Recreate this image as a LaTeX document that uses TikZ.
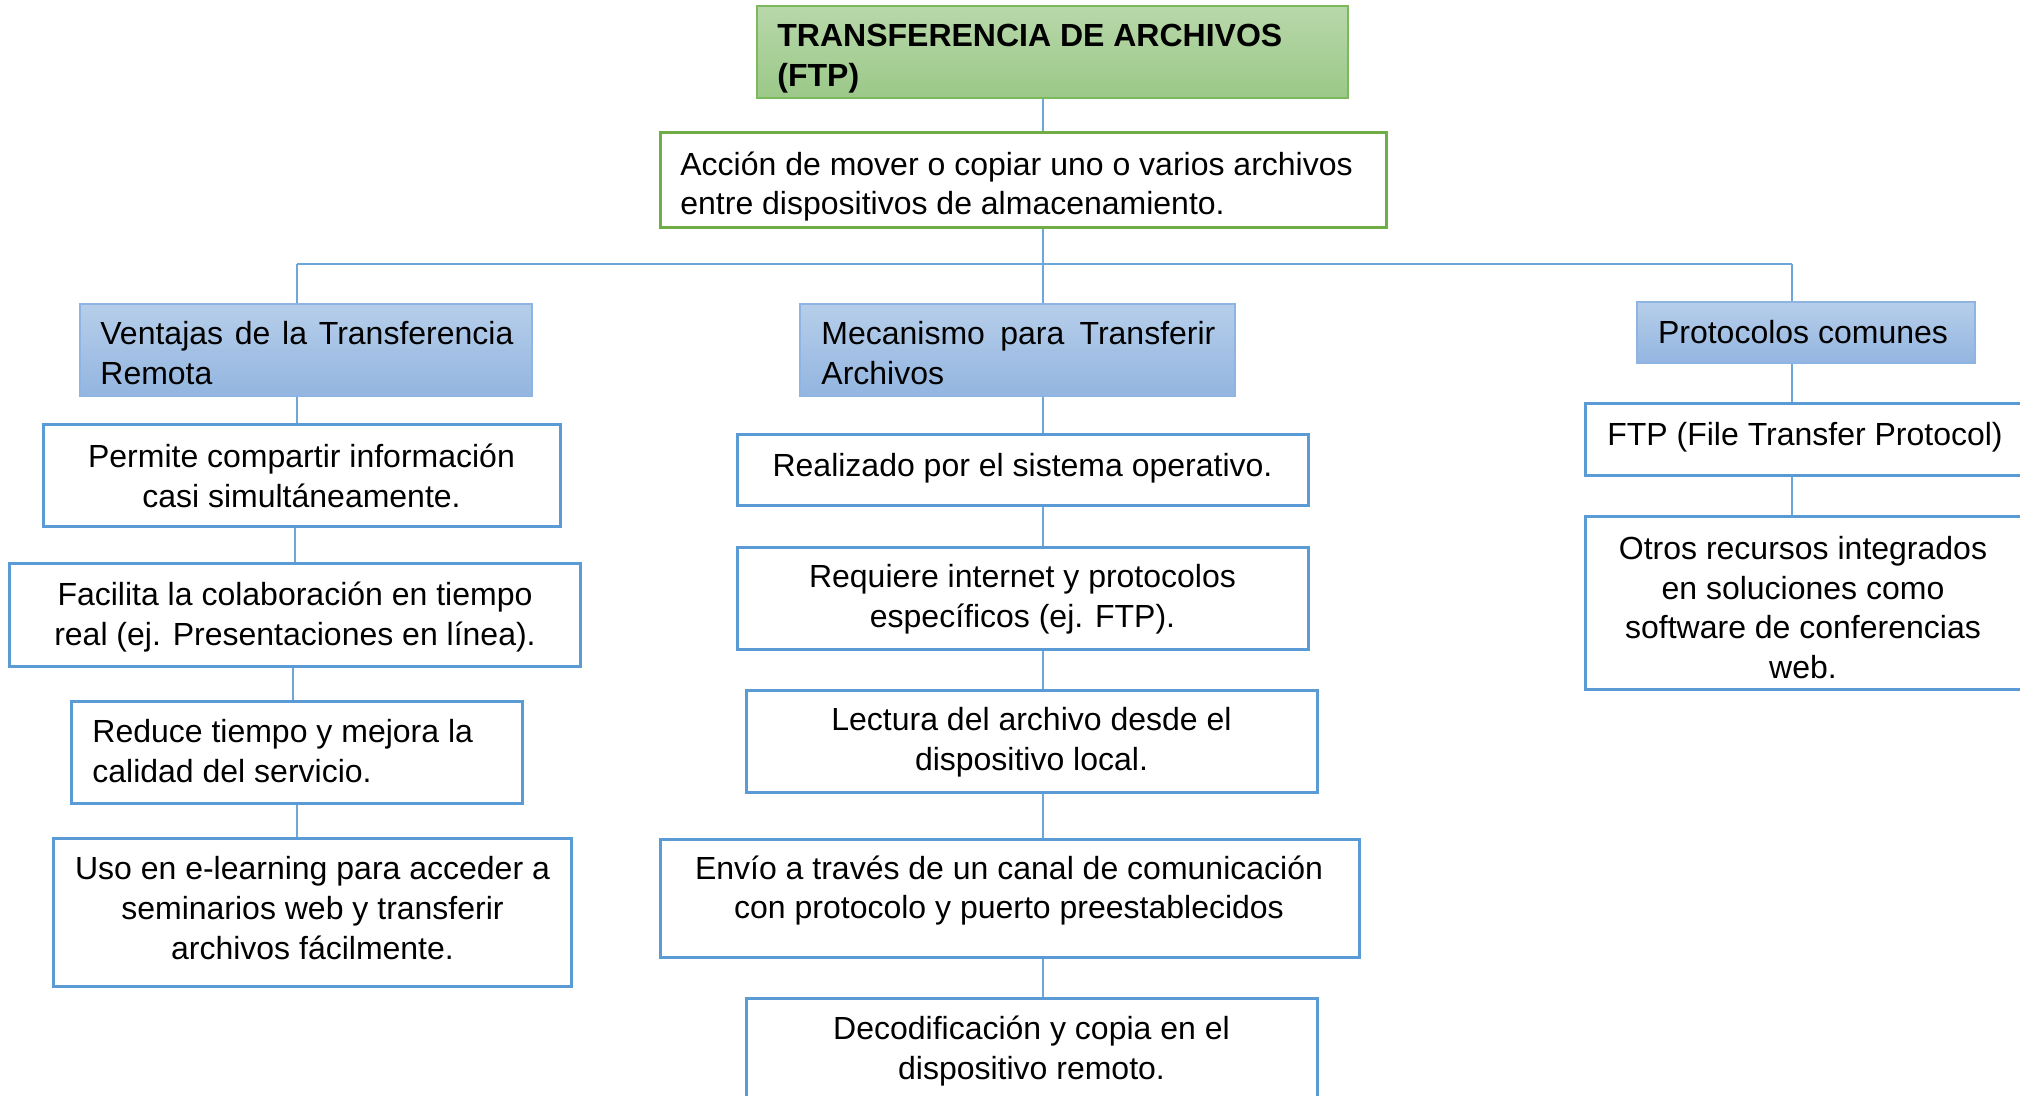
\documentclass[tikz,border=0pt]{standalone}
\usepackage{fontspec}
\setmainfont{Liberation Sans}
\definecolor{boxblue}{HTML}{5B9BD5}
\definecolor{connblue}{HTML}{6FA6DA}
\definecolor{hdrline}{HTML}{8DB4E2}
\definecolor{hdrtop}{HTML}{B6CEEA}
\definecolor{hdrbot}{HTML}{93B5E0}
\definecolor{ttltop}{HTML}{B8D8AA}
\definecolor{ttlbot}{HTML}{9BC888}
\definecolor{ttlline}{HTML}{7CB95C}
\definecolor{defline}{HTML}{70AD47}
\begin{document}
\begin{tikzpicture}[x=0.5pt,y=-0.5pt,
  box/.style={draw=boxblue, line width=1.5pt, fill=white, inner sep=0pt},
  hdr/.style={draw=hdrline, line width=1pt, top color=hdrtop, bottom color=hdrbot, inner sep=0pt},
  ttl/.style={draw=ttlline, line width=1pt, top color=ttltop, bottom color=ttlbot, inner sep=0pt},
  defbox/.style={draw=defline, line width=1.5pt, fill=white, inner sep=0pt},
  txt/.style={inner sep=0pt, font=\fontsize{16pt}{19.9pt}\selectfont},
  conn/.style={draw=connblue, line width=0.8pt}]
\useasboundingbox (0,0) rectangle (2020,1096);
\fill[white] (0,0) rectangle (2020,1096);

% junction coordinates
\coordinate (jC) at (1043,264);
\coordinate (jL) at (297,264);
\coordinate (jR) at (1792,264);

% boxes
\node[ttl, minimum width=295.5pt, minimum height=46pt] (title) at (1052.5,52) {};
\node[defbox, minimum width=363pt, minimum height=47.5pt] (def) at (1023,180.5) {};
\node[hdr, minimum width=226pt, minimum height=46pt] (ven) at (306,350) {};
\node[hdr, minimum width=217.5pt, minimum height=46pt] (mec) at (1017.5,350) {};
\node[hdr, minimum width=169pt, minimum height=30.5pt] (prot) at (1806,333) {};
\node[box, minimum width=258.5pt, minimum height=51pt] (perm) at (301.5,476) {};
\node[box, minimum width=285.5pt, minimum height=51pt] (fac) at (294.5,615) {};
\node[box, minimum width=225.5pt, minimum height=51pt] (red) at (296.5,752) {};
\node[box, minimum width=259pt, minimum height=74pt] (uso) at (312,912) {};
\node[box, minimum width=285.5pt, minimum height=35.5pt] (real) at (1022.5,470.5) {};
\node[box, minimum width=285.5pt, minimum height=50.5pt] (req) at (1022.5,598.5) {};
\node[box, minimum width=285.5pt, minimum height=51pt] (lec) at (1031.5,741) {};
\node[box, minimum width=349.5pt, minimum height=59pt] (env) at (1009.5,898) {};
\node[box, minimum width=285.5pt, minimum height=50.5pt] (dec) at (1031.5,1048.5) {};
\node[box, minimum width=218pt, minimum height=36pt] (ftp) at (1803,440) {};
\node[box, minimum width=218pt, minimum height=86pt] (otr) at (1803,603) {};

% texts
\node[txt, anchor=west, align=left, font=\fontsize{16pt}{19.9pt}\selectfont\bfseries] (titleT) at (777,59) {TRANSFERENCIA DE ARCHIVOS\\(FTP)};
\node[txt, anchor=west, align=left] (defT) at (680,186.5) {Acción de mover o copiar uno o varios archivos\\entre dispositivos de almacenamiento.};
\node[txt, anchor=west, align=left] (venT) at (100,353) {\makebox[206.5pt][s]{Ventajas de la Transferencia}\\Remota};
\node[txt, anchor=west, align=left] (mecT) at (821,353) {\makebox[197pt][s]{Mecanismo para Transferir}\\Archivos};
\node[txt] (protT) at (1803,332) {Protocolos comunes};
\node[txt, align=center] (permT) at (301.5,475.5) {Permite compartir información\\casi simultáneamente.};
\node[txt, align=center] (facT) at (295,617) {Facilita la colaboración en tiempo\\real (ej. Presentaciones en línea).};
\node[txt, anchor=west, align=left] (redT) at (92,751) {Reduce tiempo y mejora la\\calidad del servicio.};
\node[txt, align=center] (usoT) at (312.5,908) {Uso en e-learning para acceder a\\seminarios web y transferir\\archivos fácilmente.};
\node[txt] (realT) at (1022.5,468.5) {Realizado por el sistema operativo.};
\node[txt, align=center] (reqT) at (1022.5,599.5) {Requiere internet y protocolos\\específicos (ej. FTP).};
\node[txt, align=center] (lecT) at (1031.5,742.5) {Lectura del archivo desde el\\dispositivo local.};
\node[txt, align=center] (envT) at (1009,890.5) {Envío a través de un canal de comunicación\\con protocolo y puerto preestablecidos};
\node[txt, align=center] (decT) at (1031.5,1051) {Decodificación y copia en el\\dispositivo remoto.};
\node[txt] (ftpT) at (1805,437) {FTP (File Transfer Protocol)};
\node[txt, align=center] (otrT) at (1803,607.5) {Otros recursos integrados\\en soluciones como\\software de conferencias\\web.};

% connectors
\draw[conn] (title.south -| jC) -- (def.north -| jC);
\draw[conn] (def.south -| jC) -- (jC);
\draw[conn] (jL) -- (jR);
\draw[conn] (jL) -- (ven.north -| jL);
\draw[conn] (jC) -- (mec.north -| jC);
\draw[conn] (jR) -- (prot.north -| jR);
\draw[conn] (ven.south -| jL) -- (perm.north -| jL);
\draw[conn] ([xshift=-1pt]perm.south -| jL) -- ([xshift=-1pt]fac.north -| jL);
\draw[conn] ([xshift=-2pt]fac.south -| jL) -- ([xshift=-2pt]red.north -| jL);
\draw[conn] (red.south -| jL) -- (uso.north -| jL);
\draw[conn] (mec.south -| jC) -- (real.north -| jC);
\draw[conn] (real.south -| jC) -- (req.north -| jC);
\draw[conn] (req.south -| jC) -- (lec.north -| jC);
\draw[conn] (lec.south -| jC) -- (env.north -| jC);
\draw[conn] (env.south -| jC) -- (dec.north -| jC);
\draw[conn] (prot.south -| jR) -- (ftp.north -| jR);
\draw[conn] (ftp.south -| jR) -- (otr.north -| jR);
\end{tikzpicture}
\end{document}
